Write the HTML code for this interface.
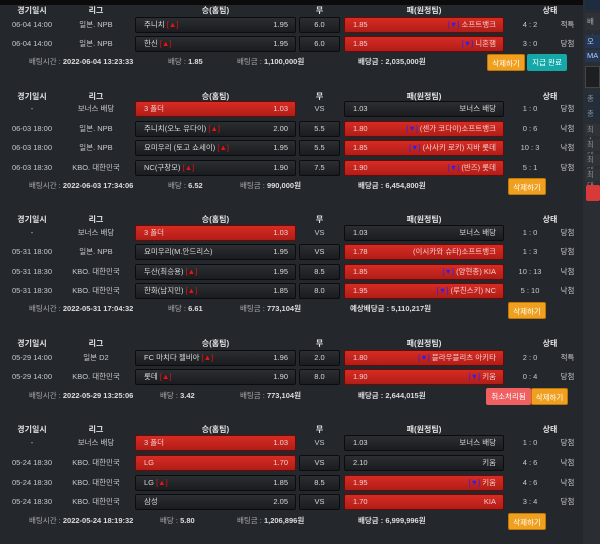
<!DOCTYPE html>
<html><head><meta charset="utf-8"><style>
*{margin:0;padding:0;box-sizing:border-box}
body{width:600px;height:544px;overflow:hidden;background:#24282d;font-family:"Liberation Sans","Noto Sans CJK KR",sans-serif;font-size:7.5px;color:#c8c8c8;position:relative}
.a{position:absolute}
.hd{position:absolute;font-weight:bold;color:#e0e0e0;text-align:center;height:12px;line-height:12px;font-size:8px}
.r{position:absolute;left:0;width:583px;height:16px}
.r>div{position:absolute;top:0;height:16px;line-height:16px;white-space:nowrap}
.r>div.b{line-height:14px}
.d{left:0;width:64px;text-align:center}
.l{left:64px;width:64px;text-align:center}
.w{left:135px;width:161px}
.x{left:299px;width:41px;text-align:center}
.p{left:344px;width:160px}
.sc{left:505px;width:50px;text-align:center}
.st{left:555px;width:25px;text-align:center}
.b{background:linear-gradient(#2b2e32,#1a1c1f);border:1px solid #0b0c0d;border-radius:2px;color:#d8d8d8}
.red{background:linear-gradient(#d62c23,#b11d18);border-color:#650c09;color:#f0d0d0}
.n{position:absolute;left:8px;top:0}
.o{position:absolute;right:7px;top:0}
.up{color:#e11}
.dn{color:#22f}
.f{position:absolute;font-weight:bold;color:#dcdcdc;height:12px;line-height:12px;white-space:nowrap}
.f i{font-style:normal;font-weight:normal;color:#aaa}
.btn{position:absolute;height:17px;line-height:17px;text-align:center;color:#fff;border-radius:2px;font-size:7.5px}
.or{background:#f0a020;border:1px solid #c07800}
.tl{background:#14a8a8}
.pk{background:#f06060}
</style></head><body>
<div class="a" style="left:0;top:0;width:583px;height:5px;background:#0b0b0c"></div>
<div class="a" style="left:583px;top:0;width:17px;height:544px;background:#2a2e33"></div>
<div class="a" style="left:585px;top:0;width:15px;height:10px;background:#1e2c40"></div>
<div class="a" style="left:585px;top:13px;width:15px;height:17px;background:#2e3238;color:#aaa;line-height:17px;padding-left:2px">배팅</div>
<div class="a" style="left:585px;top:35px;width:15px;height:13px;background:#243656;color:#bcd;line-height:13px;padding-left:2px">오</div>
<div class="a" style="left:585px;top:50px;width:15px;height:12px;background:#243656;color:#bcd;line-height:12px;padding-left:2px">MA</div>
<div class="a" style="left:585px;top:66px;width:15px;height:22px;background:#1e1f21;border:1px solid #444"></div>
<div class="a" style="left:585px;top:93px;width:15px;height:12px;background:#232e3d;color:#888;padding-left:2px">총</div>
<div class="a" style="left:585px;top:108px;width:15px;height:12px;background:#232e3d;color:#888;padding-left:2px">총</div>
<div class="a" style="left:585px;top:124px;width:15px;height:12px;background:#2f3236;color:#888;padding-left:2px">최소</div>
<div class="a" style="left:585px;top:139px;width:15px;height:12px;background:#2f3236;color:#888;padding-left:2px">최대</div>
<div class="a" style="left:585px;top:154px;width:15px;height:12px;background:#2f3236;color:#888;padding-left:2px">최대</div>
<div class="a" style="left:585px;top:169px;width:15px;height:12px;background:#2f3236;color:#888;padding-left:2px">최대</div>
<div class="a" style="left:586px;top:185px;width:14px;height:16px;background:#d83a3a;border-radius:2px"></div>

<!-- S1 -->
<div class="hd" style="left:0;width:64px;top:5px">경기일시</div><div class="hd" style="left:64px;width:64px;top:5px">리그</div><div class="hd" style="left:135px;width:161px;top:5px">승(홈팀)</div><div class="hd" style="left:299px;width:41px;top:5px">무</div><div class="hd" style="left:344px;width:160px;top:5px">패(원정팀)</div><div class="hd" style="left:530px;width:40px;top:5px">상태</div>
<div class="r" style="top:17px"><div class="d">06-04 14:00</div><div class="l">일본. NPB</div><div class="w b"><span class="n">주니치 <span class="up">[▲]</span></span><span class="o">1.95</span></div><div class="x b">6.0</div><div class="p b red"><span class="n">1.85</span><span class="o"><span class="dn">[▼]</span> 소프트뱅크</span></div><div class="sc">4 : 2</div><div class="st">적특</div></div>
<div class="r" style="top:36px"><div class="d">06-04 14:00</div><div class="l">일본. NPB</div><div class="w b"><span class="n">한신 <span class="up">[▲]</span></span><span class="o">1.95</span></div><div class="x b">6.0</div><div class="p b red"><span class="n">1.85</span><span class="o"><span class="dn">[▼]</span> 니혼햄</span></div><div class="sc">3 : 0</div><div class="st">당첨</div></div>
<div class="f" style="left:29px;top:56px"><i>배팅시간 : </i>2022-06-04 13:23:33</div><div class="f" style="left:168px;top:56px"><i>배당 : </i>1.85</div><div class="f" style="left:237px;top:56px"><i>배팅금 : </i>1,100,000원</div><div class="f" style="left:358px;top:56px">배당금 : 2,035,000원</div>
<div class="btn or" style="left:487px;top:54px;width:38px">삭제하기</div><div class="btn tl" style="left:527px;top:54px;width:40px">지급 완료</div>

<!-- S2 -->
<div class="hd" style="left:0;width:64px;top:91px">경기일시</div><div class="hd" style="left:64px;width:64px;top:91px">리그</div><div class="hd" style="left:135px;width:161px;top:91px">승(홈팀)</div><div class="hd" style="left:299px;width:41px;top:91px">무</div><div class="hd" style="left:344px;width:160px;top:91px">패(원정팀)</div><div class="hd" style="left:530px;width:40px;top:91px">상태</div>
<div class="r" style="top:101px"><div class="d">-</div><div class="l">보너스 배당</div><div class="w b red"><span class="n">3 폴더</span><span class="o">1.03</span></div><div class="x">VS</div><div class="p b"><span class="n">1.03</span><span class="o">보너스 배당</span></div><div class="sc">1 : 0</div><div class="st">당첨</div></div>
<div class="r" style="top:121px"><div class="d">06-03 18:00</div><div class="l">일본. NPB</div><div class="w b"><span class="n">주니치(오노 유다이) <span class="up">[▲]</span></span><span class="o">2.00</span></div><div class="x b">5.5</div><div class="p b red"><span class="n">1.80</span><span class="o"><span class="dn">[▼]</span> (센가 코다이)소프트뱅크</span></div><div class="sc">0 : 6</div><div class="st">낙첨</div></div>
<div class="r" style="top:140px"><div class="d">06-03 18:00</div><div class="l">일본. NPB</div><div class="w b"><span class="n">요미우리 (토고 쇼세이) <span class="up">[▲]</span></span><span class="o">1.95</span></div><div class="x b">5.5</div><div class="p b red"><span class="n">1.85</span><span class="o"><span class="dn">[▼]</span> (사사키 로키) 지바 롯데</span></div><div class="sc">10 : 3</div><div class="st">낙첨</div></div>
<div class="r" style="top:160px"><div class="d">06-03 18:30</div><div class="l">KBO. 대한민국</div><div class="w b"><span class="n">NC(구창모) <span class="up">[▲]</span></span><span class="o">1.90</span></div><div class="x b">7.5</div><div class="p b red"><span class="n">1.90</span><span class="o"><span class="dn">[▼]</span> (반즈) 롯데</span></div><div class="sc">5 : 1</div><div class="st">당첨</div></div>
<div class="f" style="left:29px;top:180px"><i>배팅시간 : </i>2022-06-03 17:34:06</div><div class="f" style="left:168px;top:180px"><i>배당 : </i>6.52</div><div class="f" style="left:240px;top:180px"><i>배팅금 : </i>990,000원</div><div class="f" style="left:358px;top:180px">배당금 : 6,454,800원</div>
<div class="btn or" style="left:508px;top:178px;width:38px">삭제하기</div>

<!-- S3 -->
<div class="hd" style="left:0;width:64px;top:214px">경기일시</div><div class="hd" style="left:64px;width:64px;top:214px">리그</div><div class="hd" style="left:135px;width:161px;top:214px">승(홈팀)</div><div class="hd" style="left:299px;width:41px;top:214px">무</div><div class="hd" style="left:344px;width:160px;top:214px">패(원정팀)</div><div class="hd" style="left:530px;width:40px;top:214px">상태</div>
<div class="r" style="top:225px"><div class="d">-</div><div class="l">보너스 배당</div><div class="w b red"><span class="n">3 폴더</span><span class="o">1.03</span></div><div class="x">VS</div><div class="p b"><span class="n">1.03</span><span class="o">보너스 배당</span></div><div class="sc">1 : 0</div><div class="st">당첨</div></div>
<div class="r" style="top:244px"><div class="d">05-31 18:00</div><div class="l">일본. NPB</div><div class="w b"><span class="n">요미우리(M.안드리스)</span><span class="o">1.95</span></div><div class="x b">VS</div><div class="p b red"><span class="n">1.78</span><span class="o">(이시카와 슈타)소프트뱅크</span></div><div class="sc">1 : 3</div><div class="st">당첨</div></div>
<div class="r" style="top:264px"><div class="d">05-31 18:30</div><div class="l">KBO. 대한민국</div><div class="w b"><span class="n">두산(최승용) <span class="up">[▲]</span></span><span class="o">1.95</span></div><div class="x b">8.5</div><div class="p b red"><span class="n">1.85</span><span class="o"><span class="dn">[▼]</span> (양현종) KIA</span></div><div class="sc">10 : 13</div><div class="st">낙첨</div></div>
<div class="r" style="top:283px"><div class="d">05-31 18:30</div><div class="l">KBO. 대한민국</div><div class="w b"><span class="n">한화(남지민) <span class="up">[▲]</span></span><span class="o">1.85</span></div><div class="x b">8.0</div><div class="p b red"><span class="n">1.95</span><span class="o"><span class="dn">[▼]</span> (루친스키) NC</span></div><div class="sc">5 : 10</div><div class="st">낙첨</div></div>
<div class="f" style="left:29px;top:303px"><i>배팅시간 : </i>2022-05-31 17:04:32</div><div class="f" style="left:168px;top:303px"><i>배당 : </i>6.61</div><div class="f" style="left:240px;top:303px"><i>배팅금 : </i>773,104원</div><div class="f" style="left:350px;top:303px">예상배당금 : 5,110,217원</div>
<div class="btn or" style="left:508px;top:302px;width:38px">삭제하기</div>

<!-- S4 -->
<div class="hd" style="left:0;width:64px;top:338px">경기일시</div><div class="hd" style="left:64px;width:64px;top:338px">리그</div><div class="hd" style="left:135px;width:161px;top:338px">승(홈팀)</div><div class="hd" style="left:299px;width:41px;top:338px">무</div><div class="hd" style="left:344px;width:160px;top:338px">패(원정팀)</div><div class="hd" style="left:530px;width:40px;top:338px">상태</div>
<div class="r" style="top:350px"><div class="d">05-29 14:00</div><div class="l">일본 D2</div><div class="w b"><span class="n">FC 마치다 젤비아 <span class="up">[▲]</span></span><span class="o">1.96</span></div><div class="x b">2.0</div><div class="p b red"><span class="n">1.80</span><span class="o"><span class="dn">[▼]</span> 블라우블리츠 아키타</span></div><div class="sc">2 : 0</div><div class="st">적특</div></div>
<div class="r" style="top:369px"><div class="d">05-29 14:00</div><div class="l">KBO. 대한민국</div><div class="w b"><span class="n">롯데 <span class="up">[▲]</span></span><span class="o">1.90</span></div><div class="x b">8.0</div><div class="p b red"><span class="n">1.90</span><span class="o"><span class="dn">[▼]</span> 키움</span></div><div class="sc">0 : 4</div><div class="st">당첨</div></div>
<div class="f" style="left:29px;top:390px"><i>배팅시간 : </i>2022-05-29 13:25:06</div><div class="f" style="left:160px;top:390px"><i>배당 : </i>3.42</div><div class="f" style="left:240px;top:390px"><i>배팅금 : </i>773,104원</div><div class="f" style="left:358px;top:390px">배당금 : 2,644,015원</div>
<div class="btn pk" style="left:486px;top:388px;width:45px">취소처리됨</div><div class="btn or" style="left:531px;top:388px;width:37px">삭제하기</div>

<!-- S5 -->
<div class="hd" style="left:0;width:64px;top:424px">경기일시</div><div class="hd" style="left:64px;width:64px;top:424px">리그</div><div class="hd" style="left:135px;width:161px;top:424px">승(홈팀)</div><div class="hd" style="left:299px;width:41px;top:424px">무</div><div class="hd" style="left:344px;width:160px;top:424px">패(원정팀)</div><div class="hd" style="left:530px;width:40px;top:424px">상태</div>
<div class="r" style="top:435px"><div class="d">-</div><div class="l">보너스 배당</div><div class="w b red"><span class="n">3 폴더</span><span class="o">1.03</span></div><div class="x">VS</div><div class="p b"><span class="n">1.03</span><span class="o">보너스 배당</span></div><div class="sc">1 : 0</div><div class="st">당첨</div></div>
<div class="r" style="top:455px"><div class="d">05-24 18:30</div><div class="l">KBO. 대한민국</div><div class="w b red"><span class="n">LG</span><span class="o">1.70</span></div><div class="x b">VS</div><div class="p b"><span class="n">2.10</span><span class="o">키움</span></div><div class="sc">4 : 6</div><div class="st">낙첨</div></div>
<div class="r" style="top:475px"><div class="d">05-24 18:30</div><div class="l">KBO. 대한민국</div><div class="w b"><span class="n">LG <span class="up">[▲]</span></span><span class="o">1.85</span></div><div class="x b">8.5</div><div class="p b red"><span class="n">1.95</span><span class="o"><span class="dn">[▼]</span> 키움</span></div><div class="sc">4 : 6</div><div class="st">낙첨</div></div>
<div class="r" style="top:494px"><div class="d">05-24 18:30</div><div class="l">KBO. 대한민국</div><div class="w b"><span class="n">삼성</span><span class="o">2.05</span></div><div class="x b">VS</div><div class="p b red"><span class="n">1.70</span><span class="o">KIA</span></div><div class="sc">3 : 4</div><div class="st">당첨</div></div>
<div class="f" style="left:29px;top:515px"><i>배팅시간 : </i>2022-05-24 18:19:32</div><div class="f" style="left:160px;top:515px"><i>배당 : </i>5.80</div><div class="f" style="left:237px;top:515px"><i>배팅금 : </i>1,206,896원</div><div class="f" style="left:358px;top:515px">배당금 : 6,999,996원</div>
<div class="btn or" style="left:508px;top:513px;width:38px">삭제하기</div>
</body></html>
